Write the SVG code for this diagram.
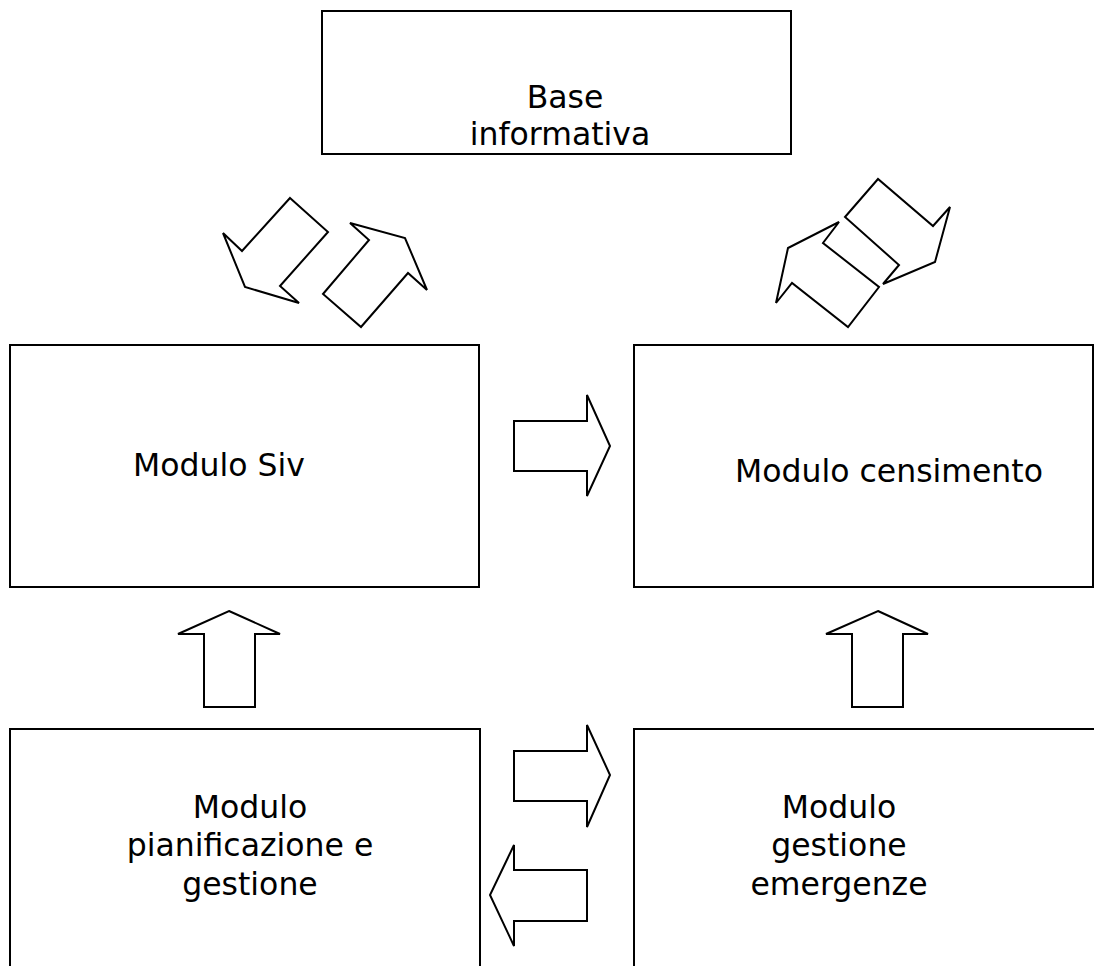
<svg xmlns="http://www.w3.org/2000/svg" width="1094" height="966" viewBox="0 0 1094 966">
<style>
.box{fill:#fff;stroke:#000;stroke-width:2}
.arr{fill:none;stroke:#000;stroke-width:2;stroke-linejoin:miter}
.t{font-family:"DejaVu Sans",Verdana,sans-serif;font-size:31.5px;fill:#000}
.c{text-anchor:middle}
</style>
<rect width="1094" height="966" fill="#fff"/>
<g id="base">
<rect class="box" x="322" y="11" width="469" height="143"/>
<text class="t c" x="565" y="108">Base</text>
<text class="t c" x="560" y="145">informativa</text>
</g>
<g id="siv">
<rect class="box" x="10" y="345" width="469" height="242"/>
<text class="t" x="133" y="476">Modulo Siv</text>
</g>
<g id="censimento">
<rect class="box" x="634" y="345" width="459" height="242"/>
<text class="t c" x="889" y="482">Modulo censimento</text>
</g>
<g id="pianificazione">
<rect class="box" x="10" y="729" width="470" height="260"/>
<text class="t c" x="250" y="818">Modulo</text>
<text class="t c" x="250" y="856">pianificazione e</text>
<text class="t c" x="250" y="895">gestione</text>
</g>
<g id="emergenze">
<rect class="box" x="634" y="729" width="480" height="260"/>
<text class="t c" x="839" y="818">Modulo</text>
<text class="t c" x="839" y="856">gestione</text>
<text class="t c" x="839" y="895">emergenze</text>
</g>
<g id="connectors">
<polygon class="arr" points="290,198 328,232 280,286 299,303 245,287 223,233 242,251"/>
<polygon class="arr" points="323,294 369,240 350,223 405,238 427,290 408,273 361,327"/>
<polygon class="arr" points="845,217 878,179 933,226 950,207 935,262 883,284 899,265"/>
<polygon class="arr" points="839,222 823,243 879,287 848,327 792,283 776,303 788,248"/>
<polygon class="arr" points="514,421 587,421 587,395 610,446 587,496 587,471 514,471"/>
<polygon class="arr" points="229,611 280,634 255,634 255,707 204,707 204,634 178,634"/>
<polygon class="arr" points="878,611 928,634 903,634 903,707 852,707 852,634 826,634"/>
<polygon class="arr" points="514,751 587,751 587,725 610,775 587,827 587,801 514,801"/>
<polygon class="arr" points="587,870 514,870 514,845 490,895 514,946 514,921 587,921"/>
</g>
</svg>
